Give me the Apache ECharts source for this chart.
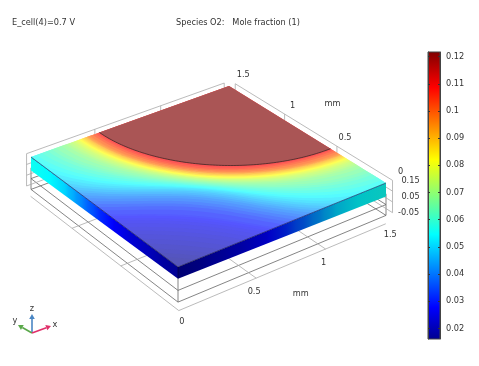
<!DOCTYPE html>
<html>
<head>
<meta charset="utf-8">
<style>html,body{margin:0;padding:0;background:#fff}#chart{width:479px;height:366px}</style>
<script src="https://cdn.jsdelivr.net/npm/echarts@6/dist/echarts.min.js"></script>
</head>
<body>
<div id="chart"></div>
<script>
// contour table: mole fraction, distance from the far corner
// along the diagonal, and how far the contour bulges towards the plate edges
const contourLevels = [0.017,0.018,0.019,0.02,0.021,0.022,0.023,0.024,0.025,0.026,0.027,0.028,0.029,0.03,0.032,0.034,0.036,0.038,0.04,0.042,0.044,0.046,0.048,0.05,0.052,0.054,0.056,0.058,0.06,0.062,0.064,0.066,0.068,0.07,0.072,0.074,0.076,0.078,0.08,0.082,0.084,0.086,0.088,0.09,0.092,0.094,0.096,0.098,0.1,0.103,0.106,0.109,0.112];
const contourDiag = [2.1,2.03,1.99,1.95,1.9,1.85,1.8,1.76,1.72,1.68,1.65,1.625,1.6,1.58,1.53,1.49,1.46,1.43,1.4,1.375,1.355,1.335,1.315,1.3,1.285,1.275,1.265,1.25,1.24,1.23,1.22,1.21,1.2,1.19,1.18,1.17,1.16,1.155,1.145,1.14,1.13,1.125,1.115,1.11,1.1,1.095,1.09,1.08,1.075,1.06,1.045,1.025,1];
const contourEdge = [2.68,2.6,2.52,2.45,2.4,2.35,2.3,2.25,2.2,2.15,2.1,2.065,2.04,2.02,1.97,1.93,1.88,1.84,1.8,1.76,1.72,1.69,1.655,1.62,1.58,1.54,1.5,1.46,1.42,1.38,1.35,1.32,1.28,1.25,1.23,1.21,1.19,1.175,1.16,1.15,1.14,1.13,1.12,1.11,1.1,1.095,1.09,1.08,1.07,1.05,1.03,1.015,1];
const baseValue = 0.0165;
const diskValue = 0.1217;
const diskRadius = 1;

const horizontalTicks = [0, 0.5, 1, 1.5];
const zTicks = [0.15, 0.05, -0.05];
const colorbarTicks = [0.02,0.03,0.04,0.05,0.06,0.07,0.08,0.09,0.1,0.11,0.12];
const colorbarRange = [0.0161, 0.1217];

// jet colormap
const jetStops = [0, 0.111, 0.365, 0.625, 0.875, 1];
const jetColors = [[0,0,143],[0,0,255],[0,255,255],[255,255,0],[255,0,0],[128,0,0]];

const textColor = '#333';
const textFont = '8.2px "DejaVu Sans"';

// plate corners on screen at the top surface, (0,0) (1.5,0) (1.5,1.5) (0,1.5)
const cornerPx = [[178,267],[386,183],[229,86],[31,157]];
const plateSize = 1.5, topZ = 0.15, bottomZ = 0.05, floorZ = -0.165;
const wallOffset = 0.05;
const floorOffset = [0.035, 0.055];

function makeHomography(q) {
    let dx1 = q[1][0]-q[2][0], dx2 = q[3][0]-q[2][0], dx3 = q[0][0]-q[1][0]+q[2][0]-q[3][0];
    let dy1 = q[1][1]-q[2][1], dy2 = q[3][1]-q[2][1], dy3 = q[0][1]-q[1][1]+q[2][1]-q[3][1];
    let den = dx1*dy2-dx2*dy1;
    let g = (dx3*dy2-dx2*dy3)/den, h = (dx1*dy3-dx3*dy1)/den;
    return [q[1][0]-q[0][0]+g*q[1][0], q[3][0]-q[0][0]+h*q[3][0], q[0][0],
            q[1][1]-q[0][1]+g*q[1][1], q[3][1]-q[0][1]+h*q[3][1], q[0][1], g, h];
}
const H = makeHomography(cornerPx);

function project(x, y, z) {
    let u = x/plateSize, v = y/plateSize;
    let w = H[6]*u+H[7]*v+1;
    let scale = 117-6*(x+y);
    return [(H[0]*u+H[1]*v+H[2])/w, (H[3]*u+H[4]*v+H[5])/w-(z-topZ)*scale];
}

function jet(value) {
    let t = (value-colorbarRange[0])/(colorbarRange[1]-colorbarRange[0]);
    t = Math.max(0, Math.min(1, t));
    let i = 0;
    while (i < jetStops.length-2 && t > jetStops[i+1]) i++;
    let f = (t-jetStops[i])/(jetStops[i+1]-jetStops[i]);
    return jetColors[i].map((c, k) => c+(jetColors[i+1][k]-c)*f);
}
function rgb(c) {
    return 'rgb('+c.map(Math.round).join(',')+')';
}
// top face is washed out by the light, the two side faces are not
function topColor(value) {
    return rgb(jet(value).map(c => c*0.667+85));
}
function leftColor(value) {
    return rgb(jet(value));
}
function rightColor(value) {
    return rgb(jet(value).map(c => c*0.78));
}

// one contour as points on the plate, pushed back onto the plate where it leaves it
function contourPoints(diag, edge) {
    let pts = [];
    for (let deg = 0; deg <= 90; deg += 1) {
        let th = deg*Math.PI/180;
        let r = diag+(edge-diag)*Math.pow(Math.cos(2*th), 2);
        pts.push([Math.max(0, plateSize-r*Math.cos(th)), Math.max(0, plateSize-r*Math.sin(th))]);
    }
    return pts;
}

const contourRows = contourLevels.map((v, i) => [v, contourDiag[i], contourEdge[i]]);

function polyItem(api, pts, fill) {
    return {
        type: 'polygon',
        shape: {points: pts.map(p => api.coord(project(p[0], p[1], p[2])))},
        style: {fill: fill}
    };
}

// a band runs from its own contour over the next one, so no seam shows between bands
function renderBand(params, api) {
    let i = params.dataIndex;
    let outer = contourPoints(contourDiag[i], contourEdge[i]);
    let inner = i+2 < contourLevels.length
        ? contourPoints(contourDiag[i+2], contourEdge[i+2]).reverse()
        : [[plateSize, plateSize]];
    let pts = outer.concat(inner).map(p => [p[0], p[1], topZ]);
    return polyItem(api, pts, topColor(api.value(0)));
}

// side faces: one polygon, coloured by where each contour crosses that edge
function edgeStops(axis, colorFn) {
    let stops = [{offset: 0, color: colorFn(baseValue)}];
    contourRows.forEach(row => {
        let pts = contourPoints(row[1], row[2]).filter(p => p[axis] === 0);
        if (!pts.length) return;
        let pos = Math.min.apply(null, pts.map(p => p[1-axis]));
        stops.push({offset: pos/plateSize, color: colorFn(row[0])});
    });
    return stops;
}

function bottomAt(x, y) {
    return bottomZ-(x+y)*0.017;
}

function renderFace(api, far, axis, colorFn) {
    let a = api.coord(project(0, 0, topZ));
    let b = api.coord(project(far[0], far[1], topZ));
    // offsets follow the screen position, which is not linear along the edge
    let stops = edgeStops(axis, colorFn).map(st => {
        let p = api.coord(project(far[0]*st.offset, far[1]*st.offset, topZ));
        return {offset: (p[0]-a[0])/(b[0]-a[0]), color: st.color};
    });
    let item = polyItem(api, [[0,0,topZ],[far[0],far[1],topZ],[far[0],far[1],bottomAt(far[0],far[1])],[0,0,bottomZ]], null);
    item.style.fill = new echarts.graphic.LinearGradient(a[0], 0, b[0], 0, stops, true);
    return item;
}

// grey box behind and under the plate
const lightLine = '#aaa', darkLine = '#666';
let boxLines = [];
function addLine(a, b, color) {
    boxLines.push({value: a.concat(b), color: color});
}
const s = plateSize, d = wallOffset, fx = floorOffset[0], fy = floorOffset[1];
[-0.05, -0.15].forEach(z => {
    addLine([0,0,z], [s,0,z], darkLine);
    addLine([0,0,z], [0,s,z], darkLine);
    addLine([s,0,z], [s,s,z], darkLine);
    addLine([0,s,z], [s,s,z], darkLine);
});
[[0,0],[s,0],[0,s]].forEach(c => addLine([c[0],c[1],bottomZ], [c[0],c[1],-0.15], darkLine));
// floor
addLine([-fx,-fy,floorZ], [s-d,-fy,floorZ], lightLine);
addLine([-fx,-fy,floorZ], [-fx,s-d,floorZ], lightLine);
horizontalTicks.slice(1,3).forEach(t => {
    addLine([t,-fy,floorZ], [t,s,floorZ], lightLine);
    addLine([-fx,t,floorZ], [s,t,floorZ], lightLine);
});
// back walls
[0.15, 0.05, -0.05, -0.15].forEach(z => {
    addLine([0,s+d,z], [s,s+d,z], lightLine);
    addLine([s+d,0,z], [s+d,s,z], lightLine);
});
horizontalTicks.forEach(t => {
    addLine([t,s+d,0.15], [t,s+d,-0.15], lightLine);
    addLine([s+d,t,0.15], [s+d,t,-0.15], lightLine);
});

// axis labels, placed next to the tick they belong to
let axisLabels = [];
horizontalTicks.forEach(t => {
    axisLabels.push({text: String(t), at: [t,-d,-0.15], off: [-1.5,15.5]});
    axisLabels.push({text: String(t), at: [s+d,t,0.15], off: [8,-8.5]});
});
zTicks.forEach((t, i) => {
    axisLabels.push({text: String(t), at: [s+d,0,t], off: [t < 0 ? 16 : 18, 1+i*5]});
});
axisLabels.push({text: 'mm', at: [0.75,-d,-0.15], off: [10,32]});
axisLabels.push({text: 'mm', at: [s+d,0.75,0.15], off: [22,-26]});

function triadArrow(tip, color) {
    let ox = 32, oy = 333;
    let ang = Math.atan2(tip[1]-oy, tip[0]-ox);
    let bx = tip[0]-5*Math.cos(ang), by = tip[1]-5*Math.sin(ang);
    let nx = -Math.sin(ang)*2.8, ny = Math.cos(ang)*2.8;
    return [
        {type:'line', shape:{x1:ox,y1:oy,x2:bx,y2:by}, style:{stroke:color,lineWidth:1.6}},
        {type:'polygon', shape:{points:[tip,[bx+nx,by+ny],[bx-nx,by-ny]]}, style:{fill:color}}
    ];
}

const option = {
    animation: false,
    backgroundColor: '#fff',
    title: [
        {text:'E_cell(4)=0.7 V', left:12, top:19, padding:0, textStyle:{color:textColor,fontSize:8.2,fontWeight:'normal',fontFamily:'DejaVu Sans'}},
        {text:'Species O2:   Mole fraction (1)', left:176, top:19, padding:0, textStyle:{color:textColor,fontSize:8.2,fontWeight:'normal',fontFamily:'DejaVu Sans'}}
    ],
    grid: [
        {left:0, top:0, width:479, height:366},
        {left:428, top:52, width:12, height:287}
    ],
    xAxis: [
        {gridIndex:0, type:'value', min:0, max:479, show:false},
        {gridIndex:1, type:'value', min:0, max:1, show:false}
    ],
    yAxis: [
        {gridIndex:0, type:'value', min:0, max:366, inverse:true, show:false},
        {
            gridIndex:1, type:'value', position:'right',
            min:colorbarRange[0], max:colorbarRange[1], zlevel:1, z:12,
            splitLine:{show:false},
            axisLine:{show:true, onZero:false, lineStyle:{color:'#444',width:1}},
            axisTick:{show:true, inside:true, length:2, customValues:colorbarTicks, lineStyle:{color:'#333'}},
            axisLabel:{show:true, margin:6, customValues:colorbarTicks, color:textColor, fontSize:8.2, fontFamily:'DejaVu Sans'}
        },
        {
            gridIndex:1, type:'value', position:'left',
            min:colorbarRange[0], max:colorbarRange[1], zlevel:1, z:12,
            splitLine:{show:false},
            axisLine:{show:true, onZero:false, lineStyle:{color:'#444',width:1}},
            axisTick:{show:true, inside:true, length:2, customValues:colorbarTicks, lineStyle:{color:'#333'}},
            axisLabel:{show:false}
        }
    ],
    graphic: [{
        type:'group', silent:true,
        children: [].concat(
            triadArrow([32,314], '#4a86c4'),
            triadArrow([18,325], '#5aa84a'),
            triadArrow([51,326], '#e0306a'),
            [
                {type:'text', style:{text:'z', x:32, y:309, fill:textColor, font:textFont, align:'center', verticalAlign:'middle'}},
                {type:'text', style:{text:'y', x:15, y:321, fill:textColor, font:textFont, align:'center', verticalAlign:'middle'}},
                {type:'text', style:{text:'x', x:55, y:325, fill:textColor, font:textFont, align:'center', verticalAlign:'middle'}}
            ]
        )
    }],
    series: [
        {
            type:'custom', name:'box', coordinateSystem:'cartesian2d', xAxisIndex:0, yAxisIndex:0, clip:false, z:1, silent:true,
            data: boxLines,
            renderItem(params, api) {
                let a = api.coord(project(api.value(0), api.value(1), api.value(2)));
                let b = api.coord(project(api.value(3), api.value(4), api.value(5)));
                return {type:'line', shape:{x1:a[0],y1:a[1],x2:b[0],y2:b[1]},
                    style:{stroke:boxLines[params.dataIndex].color, lineWidth:0.8}};
            }
        },
        {
            type:'custom', name:'axis labels', coordinateSystem:'cartesian2d', xAxisIndex:0, yAxisIndex:0, clip:false, z:2, silent:true,
            data: axisLabels.map(l => l.at),
            renderItem(params, api) {
                let l = axisLabels[params.dataIndex];
                let p = api.coord(project(api.value(0), api.value(1), api.value(2)));
                return {type:'text', style:{text:l.text, x:p[0]+l.off[0], y:p[1]+l.off[1], fill:textColor, font:textFont, align:'center', verticalAlign:'middle'}};
            }
        },
        {
            type:'custom', name:'side faces', coordinateSystem:'cartesian2d', xAxisIndex:0, yAxisIndex:0, clip:false, z:3, silent:true,
            data: [[0]],
            renderItem(params, api) {
                return {type:'group', children:[
                    renderFace(api, [0,s], 0, leftColor),
                    renderFace(api, [s,0], 1, rightColor)
                ]};
            }
        },
        {
            type:'custom', name:'plate base', coordinateSystem:'cartesian2d', xAxisIndex:0, yAxisIndex:0, clip:false, z:4, silent:true,
            data: [[baseValue]],
            renderItem(params, api) {
                let pts = [[0,0]].concat(contourPoints(contourDiag[1], contourEdge[1])).map(p => [p[0], p[1], topZ]);
                return polyItem(api, pts, topColor(api.value(0)));
            }
        },
        {
            type:'custom', name:'O2 contours', coordinateSystem:'cartesian2d', xAxisIndex:0, yAxisIndex:0, clip:false, z:5, silent:true,
            data: contourRows, renderItem: renderBand
        },
        {
            type:'custom', name:'disk', coordinateSystem:'cartesian2d', xAxisIndex:0, yAxisIndex:0, clip:false, z:6, silent:true,
            data: [[diskValue, diskRadius]],
            renderItem(params, api) {
                let arc = contourPoints(api.value(1), api.value(1)).map(p => [p[0], p[1], topZ]);
                let edgeLine = [[0,s],[0,0],[s,0]].map(p => api.coord(project(p[0], p[1], topZ)));
                return {type:'group', children:[
                    polyItem(api, arc.concat([[s,s,topZ]]), topColor(api.value(0))),
                    {type:'polyline', shape:{points:arc.map(p => api.coord(project(p[0], p[1], p[2])))},
                        style:{fill:null, stroke:'rgba(40,30,30,0.85)', lineWidth:0.8}},
                    {type:'polyline', shape:{points:edgeLine}, style:{fill:null, stroke:'rgba(20,20,50,0.7)', lineWidth:0.8}},
                    {type:'line', shape:{x1:edgeLine[1][0], y1:edgeLine[1][1], x2:edgeLine[1][0], y2:api.coord(project(0,0,bottomZ))[1]},
                        style:{stroke:'rgba(0,0,40,0.6)', lineWidth:0.8}}
                ]};
            }
        },
        {
            type:'custom', name:'colorbar', coordinateSystem:'cartesian2d', xAxisIndex:1, yAxisIndex:1, clip:false, zlevel:1, z:10, silent:true,
            data: [[0, colorbarRange[0], 1, colorbarRange[1]]],
            renderItem(params, api) {
                let a = api.coord([api.value(0), api.value(1)]);
                let b = api.coord([api.value(2), api.value(3)]);
                return {type:'rect', shape:{x:a[0], y:b[1], width:b[0]-a[0], height:a[1]-b[1]},
                    style:{
                        stroke:'#444', lineWidth:1,
                        fill:new echarts.graphic.LinearGradient(0, 1, 0, 0,
                            jetStops.map((o, i) => ({offset:o, color:rgb(jetColors[i])})))
                    }};
            }
        }
    ]
};

const chart = echarts.init(document.getElementById('chart'));
chart.setOption(option);
</script>
</body>
</html>
